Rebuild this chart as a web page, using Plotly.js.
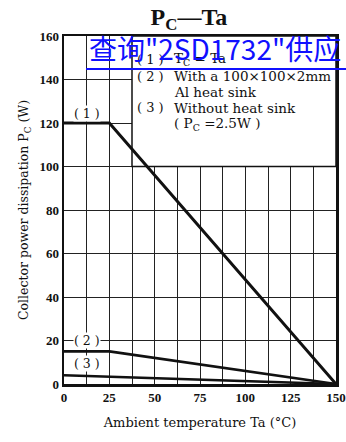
<!DOCTYPE html>
<html>
<head>
<meta charset="utf-8">
<script src="https://cdn.plot.ly/plotly-3.0.1.min.js"></script>
<style>
html,body{margin:0;padding:0;background:#fff;}
#chart{width:346px;height:442px;}
</style>
</head>
<body>
<div id="chart"></div>
<script>
// Data
const taKnee = [0, 25, 150];
const pcCurve1 = [120, 120, 0];      // (1) Tc = Ta
const pcCurve2 = [15, 15, 0];        // (2) With 100x100x2mm Al heat sink
const taCurve3 = [0, 150];
const pcCurve3 = [4, 0];             // (3) Without heat sink
const xTickVals = [0, 25, 50, 75, 100, 125, 150];
const yTickVals = [0, 20, 40, 60, 80, 100, 120, 140, 160];
const curveLabels = ['( 1 )', '( 2 )', '( 3 )'];
const curveLabelY = [124.5, 20, 9.5];
const legendNums = ['( 1 )', '( 2 )', '', '( 3 )', ''];
const legendTexts = ['T<sub>C</sub> = Ta', 'With a 100×100×2mm', 'Al heat sink', 'Without heat sink', '( P<sub>C</sub> =2.5W )'];
const legendRowY = [149.4, 141.6, 134.3, 126.9, 119.5];

const serif = 'Liberation Serif, Times New Roman, serif';
const wideSerif = 'DejaVu Serif, serif';

const traces = [
  {x: taKnee, y: pcCurve1, mode: 'lines', line: {color: '#111', width: 3}, hoverinfo: 'skip'},
  {x: taKnee, y: pcCurve2, mode: 'lines', line: {color: '#111', width: 2.6}, hoverinfo: 'skip'},
  {x: taCurve3, y: pcCurve3, mode: 'lines', line: {color: '#111', width: 2.6}, hoverinfo: 'skip'}
];

const annotations = [];
curveLabels.forEach((t, i) => {
  annotations.push({x: 12.5, y: curveLabelY[i], xref: 'x', yref: 'y', text: t, showarrow: false,
    font: {family: wideSerif, size: 12.5, color: '#111'}, bgcolor: '#fff', borderpad: 0});
});
legendTexts.forEach((t, i) => {
  if (legendNums[i]) {
    annotations.push({x: 39.2, y: legendRowY[i], xref: 'x', yref: 'y', text: legendNums[i], showarrow: false,
      xanchor: 'left', font: {family: wideSerif, size: 13, color: '#111'}});
  }
  annotations.push({x: 59.6, y: legendRowY[i], xref: 'x', yref: 'y', text: t, showarrow: false,
    xanchor: 'left', font: {family: wideSerif, size: 13.5, color: '#111'}});
});
// watermark
annotations.push({x: 0.0846, y: 0.965, xref: 'paper', yref: 'paper', xanchor: 'left', yanchor: 'middle',
  text: '查询"2SD1732"供应', showarrow: false,
  font: {family: 'Noto Sans CJK SC, sans-serif', size: 28, color: '#1010ff'}});

const layout = {
  width: 346, height: 442,
  margin: {l: 64, r: 10, t: 36, b: 58},
  paper_bgcolor: '#fff', plot_bgcolor: '#fff',
  showlegend: false,
  title: {text: '<b>P<sub>C</sub>—Ta</b>', x: 0.546, xref: 'container', xanchor: 'center',
    y: 0.962, yref: 'container', yanchor: 'middle',
    font: {family: serif, size: 24, color: '#111'}},
  xaxis: {
    range: [0, 150], tickvals: xTickVals, ticks: '', showgrid: true, gridcolor: '#222', gridwidth: 1,
    minor: {dtick: 12.5, tick0: 0, showgrid: true, gridcolor: '#222', gridwidth: 1},
    zeroline: false, showline: true, mirror: true, linecolor: '#111', linewidth: 2.5,
    tickfont: {family: serif, size: 13, color: '#111', weight: 'bold'},
    title: {text: 'Ambient temperature Ta (°C)', standoff: 14, font: {family: wideSerif, size: 13, color: '#111'}}
  },
  yaxis: {
    range: [0, 160], tickvals: yTickVals, ticks: '', showgrid: true, gridcolor: '#222', gridwidth: 1,
    zeroline: false, showline: true, mirror: true, linecolor: '#111', linewidth: 2.5,
    tickfont: {family: serif, size: 13, color: '#111', weight: 'bold'},
    title: {text: 'Collector power dissipation P<sub>C</sub> (W)', standoff: 8, font: {family: wideSerif, size: 12.5, color: '#111'}}
  },
  shapes: [
    {type: 'rect', xref: 'x', yref: 'y', x0: 37.5, x1: 150, y0: 100, y1: 160, layer: 'between',
      fillcolor: '#fff', line: {color: '#111', width: 1.5}},
    {type: 'line', xref: 'paper', yref: 'paper', x0: 0.081, x1: 1.04, y0: 0.905, y1: 0.905,
      line: {color: '#1010ff', width: 2}}
  ],
  annotations: annotations
};

Plotly.newPlot('chart', traces, layout, {displayModeBar: false, staticPlot: true});
</script>
</body>
</html>
